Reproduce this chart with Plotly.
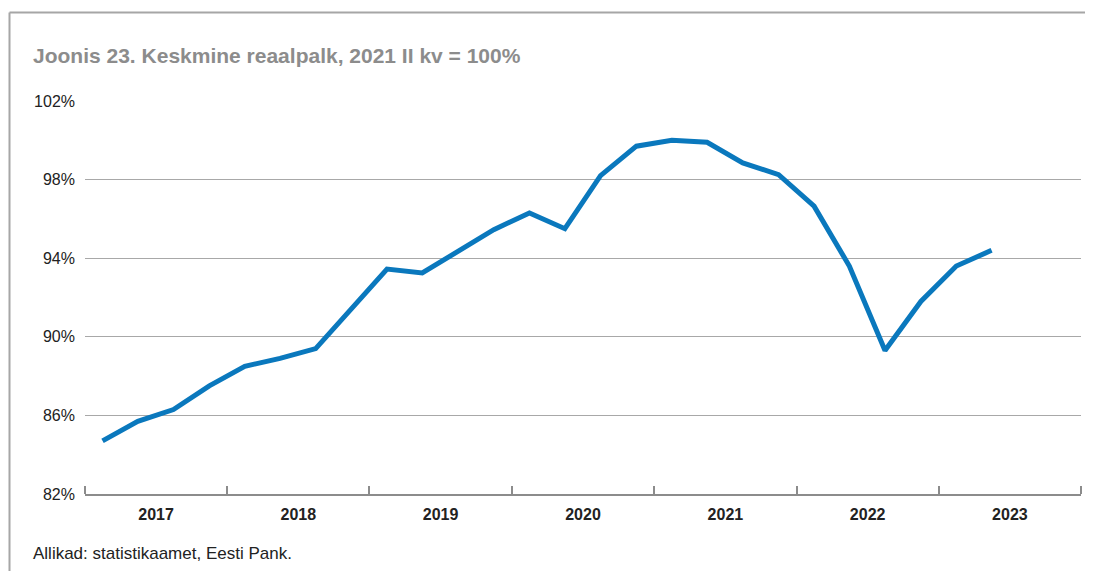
import plotly.graph_objects as go
import pandas as pd

quarters = ["2017Q1","2017Q2","2017Q3","2017Q4",
            "2018Q1","2018Q2","2018Q3","2018Q4",
            "2019Q1","2019Q2","2019Q3","2019Q4",
            "2020Q1","2020Q2","2020Q3","2020Q4",
            "2021Q1","2021Q2","2021Q3","2021Q4",
            "2022Q1","2022Q2","2022Q3","2022Q4",
            "2023Q1","2023Q2"]
real_wage = [84.7, 85.7, 86.3, 87.5,
             88.5, 88.9, 89.4, 91.4,
             93.45, 93.25, 94.35, 95.45,
             96.3, 95.5, 98.2, 99.7,
             100.0, 99.9, 98.85, 98.25,
             96.65, 93.6, 89.3, 91.8,
             93.6, 94.4]
y_ticks = [82, 86, 90, 94, 98, 102]
y_tick_labels = ["82%", "86%", "90%", "94%", "98%", "102%"]

title_text = "Joonis 23. Keskmine reaalpalk, 2021 II kv = 100%"
source_text = "Allikad: statistikaamet, Eesti Pank."

# quarter midpoints as dates
periods = pd.PeriodIndex(quarters, freq="Q")
x_dates = [p.start_time + (p.end_time - p.start_time) / 2 for p in periods]

FONT = "Liberation Sans, Arial, Helvetica, sans-serif"

# page body has an 8px margin; figure sized so it fills the window
W, H = 1085, 563
fig = go.Figure()
fig.add_trace(go.Scatter(
    x=x_dates, y=real_wage, mode="lines",
    line=dict(color="#0a78bd", width=5),
    hoverinfo="x+y", showlegend=False,
))

fig.update_layout(
    width=W, height=H,
    margin=dict(l=77, r=12, t=93, b=77),
    paper_bgcolor="white", plot_bgcolor="white",
    font=dict(family=FONT, size=16, color="#222222"),
    xaxis=dict(
        type="date",
        range=["2017-01-01", "2024-01-01"],
        dtick="M12", tick0="2017-01-01",
        ticklabelmode="period", tickformat="%Y",
        ticks="inside", ticklen=8, tickcolor="#8c8c8c", tickwidth=1.5,
        showline=True, linecolor="#8c8c8c", linewidth=2,
        showgrid=False, zeroline=False,
        tickfont=dict(family=FONT, size=16, color="#222222", weight="bold"),
        ticklabelstandoff=5,
        fixedrange=True,
    ),
    yaxis=dict(
        range=[82, 102], tickmode="array", tickvals=y_ticks, ticktext=y_tick_labels,
        showgrid=True, gridcolor="#a8a8a8", gridwidth=1,
        zeroline=False, showline=False, ticks="",
        tickfont=dict(family=FONT, size=16, color="#222222"),
        ticklabelstandoff=9,
        fixedrange=True,
    ),
    shapes=[
        # outer frame: left and top
        dict(type="line", xref="paper", yref="paper",
             x0=(9.5 - 85) / 996, x1=(9.5 - 85) / 996,
             y0=(494 - 12.5) / 393, y1=(494 - 575) / 393,
             line=dict(color="#a6a6a6", width=2)),
        dict(type="line", xref="paper", yref="paper",
             x0=(9.5 - 85) / 996, x1=(1100 - 85) / 996,
             y0=(494 - 12.5) / 393, y1=(494 - 12.5) / 393,
             line=dict(color="#a6a6a6", width=2)),
    ],
    annotations=[
        dict(text=title_text, xref="paper", yref="paper",
             x=(31 - 85) / 996, y=(494 - 56) / 393,
             xanchor="left", yanchor="middle", showarrow=False,
             font=dict(family=FONT, size=21, color="#8c8c8c", weight="bold")),
        dict(text=source_text, xref="paper", yref="paper",
             x=(31 - 85) / 996, y=(494 - 553) / 393,
             xanchor="left", yanchor="middle", showarrow=False,
             font=dict(family=FONT, size=17, color="#222222")),
    ],
)

fig.write_html("out.html")
